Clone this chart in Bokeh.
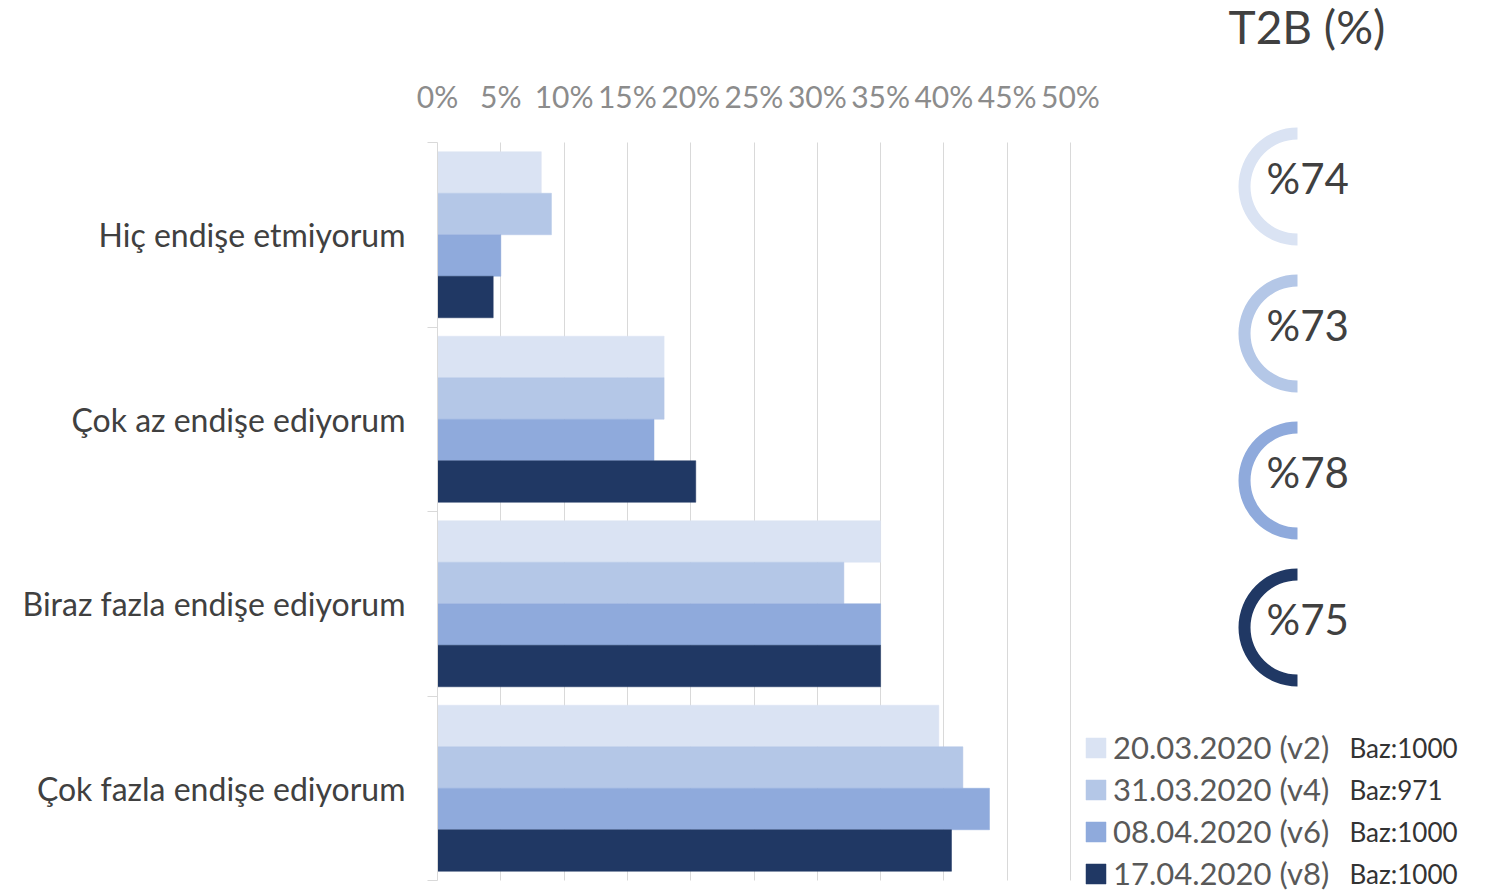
from bokeh.plotting import figure
from bokeh.layouts import column
from bokeh.models import (Range1d, FixedTicker, Legend, LegendItem,
                          ColumnDataSource, CustomJSTickFormatter)
from bokeh.core.properties import value
from bokeh.embed import file_html
from bokeh.resources import INLINE

# ---------------- data ----------------
categories = ["Hiç endişe etmiyorum", "Çok az endişe ediyorum",
              "Biraz fazla endişe ediyorum", "Çok fazla endişe ediyorum"]
series = ["20.03.2020 (v2)", "31.03.2020 (v4)", "08.04.2020 (v6)", "17.04.2020 (v8)"]
bases = ["Baz:1000", "Baz:971", "Baz:1000", "Baz:1000"]
colors = ["#dae3f3", "#b4c7e7", "#8faadc", "#203864"]
v2 = [8.2, 17.9, 35.0, 39.6]
v4 = [9.0, 17.9, 32.1, 41.5]
v6 = [5.0, 17.1, 35.0, 43.6]
v8 = [4.4, 20.4, 35.0, 40.6]
values = [v2, v4, v6, v8]
t2b = [74, 73, 78, 75]
t2b_title = "T2B (%)"
x_ticks = [0, 5, 10, 15, 20, 25, 30, 35, 40, 45, 50]

# ---------------- layout constants ----------------
W, H = 1485, 891
LEFT = 437                    # frame left (px)
TOP_H = 116                   # height of the header strip (axis + title)
HEAD_FRAME = 78               # header frame height; axis panel below it
CAT_TOP = 142                 # page px where the first category band starts
PX_PER_PCT = 12.66
BAND_PX = 184.5
x_end = (W - LEFT) / PX_PER_PCT
y_top = 0.5 - (CAT_TOP - TOP_H) / BAND_PX
y_bottom = 0.5 + (H - CAT_TOP) / BAND_PX
BAR_H = 0.225
NCAT = len(categories)

FONT = "Lato"
TXT = "#404040"

x_range = Range1d(0, x_end)

# ---------------- header: percentage axis + T2B title ----------------
head = figure(width=W, height=TOP_H, output_backend="svg", toolbar_location=None,
              x_range=x_range, y_range=Range1d(HEAD_FRAME, 0),
              x_axis_location="below", y_axis_location=None,
              min_border_left=LEFT, min_border_right=0, min_border_top=0,
              min_border_bottom=TOP_H - HEAD_FRAME)
head.outline_line_color = None
head.xgrid.grid_line_color = None
head.ygrid.grid_line_color = None
hx = head.xaxis[0]
hx.ticker = FixedTicker(ticks=x_ticks, minor_ticks=[])
hx.formatter = CustomJSTickFormatter(code="return tick + '%';")
hx.axis_line_color = None
hx.major_tick_line_color = None
hx.minor_tick_line_color = None
hx.major_tick_out = 0
hx.major_tick_in = 0
hx.major_label_text_font = FONT
hx.major_label_text_font_size = "30px"
hx.major_label_text_color = "#8c8c8c"
hx.major_label_standoff = 3

TITLE_X = (1228 - LEFT) / PX_PER_PCT
head.text(x=[TITLE_X], y=[27], text=[t2b_title], text_align="left",
          text_baseline="alphabetic", text_font=value(FONT),
          text_font_size="46px", text_color=TXT)

# ---------------- main chart ----------------
p = figure(width=W, height=H - TOP_H, output_backend="svg", toolbar_location=None,
           x_range=x_range, y_range=Range1d(y_bottom, y_top),
           x_axis_location=None, min_border_left=LEFT, min_border_top=0,
           min_border_right=0, min_border_bottom=0)
p.outline_line_color = None
p.background_fill_color = "white"
p.border_fill_color = "white"

# bars
renderers = []
n = len(series)
for k in range(n):
    ys = [i + 1 + (k - (n - 1) / 2) * BAR_H for i in range(NCAT)]
    src = ColumnDataSource(dict(y=ys, right=values[k], cat=categories))
    r = p.hbar(y="y", left=0, right="right", height=BAR_H, source=src,
               fill_color=colors[k], line_color=colors[k], line_width=0.5)
    renderers.append(r)

p.xgrid.ticker = FixedTicker(ticks=x_ticks, minor_ticks=[])
p.xgrid.grid_line_color = "#d9d9d9"
p.xgrid.grid_line_width = 1
p.xgrid.cross_bounds = (0.5, NCAT + 0.5)
p.ygrid.grid_line_color = None

# y axis (left)
ya = p.yaxis[0]
ya.bounds = (0.5, NCAT + 0.5)
ya.ticker = FixedTicker(ticks=[i + 1 for i in range(NCAT)],
                        minor_ticks=[i + 0.5 for i in range(NCAT + 1)])
ya.major_label_overrides = {i + 1: c for i, c in enumerate(categories)}
ya.axis_line_color = "#d9d9d9"
ya.major_tick_line_color = None
ya.major_tick_out = 0
ya.major_tick_in = 0
ya.minor_tick_line_color = "#d9d9d9"
ya.minor_tick_out = 10
ya.minor_tick_in = 0
ya.major_label_text_font = FONT
ya.major_label_text_font_size = "32px"
ya.major_label_text_color = TXT
ya.major_label_standoff = 22

# T2B half rings
ARC_X = (1297 - LEFT) / PX_PER_PCT
arc_y = [0.5 + (186 - CAT_TOP + 147 * i) / BAND_PX for i in range(len(t2b))]
ring = ColumnDataSource(dict(x=[ARC_X] * len(t2b), y=arc_y, c=colors,
                             t=["%" + str(v) for v in t2b]))
p.annular_wedge(x="x", y="y", inner_radius=47, outer_radius=59,
                inner_radius_units="screen", outer_radius_units="screen",
                start_angle=90, end_angle=270, start_angle_units="deg",
                end_angle_units="deg", direction="anticlock",
                fill_color="c", line_color=None, source=ring)
p.text(x="x", y="y", text="t", source=ring, x_offset=-31, y_offset=-9,
       text_align="left", text_baseline="alphabetic",
       text_font=value(FONT), text_font_size="42px", text_color=TXT)

# legend
legend = Legend(items=[LegendItem(label=s, renderers=[r]) for s, r in zip(series, renderers)],
                location=(1085 - 2 - LEFT, -1), orientation="vertical",
                glyph_width=25, glyph_height=25, label_standoff=5,
                label_text_font=FONT, label_text_font_size="31px",
                label_text_color="#595959", spacing=4, padding=0, margin=0,
                border_line_color=None, background_fill_alpha=0)
p.add_layout(legend, "center")

# Baz labels beside the legend
BAZ_X = (1349 - LEFT) / PX_PER_PCT
baz_y = [0.5 + (747 - CAT_TOP + 42.3 * i) / BAND_PX for i in range(len(bases))]
p.text(x=[BAZ_X] * len(bases), y=baz_y, text=bases, text_align="left",
       text_baseline="middle", text_font=value(FONT), text_font_size="26px",
       text_color="#333333")

layout = column(head, p, spacing=0)
open("out.html", "w").write(file_html(layout, INLINE))
